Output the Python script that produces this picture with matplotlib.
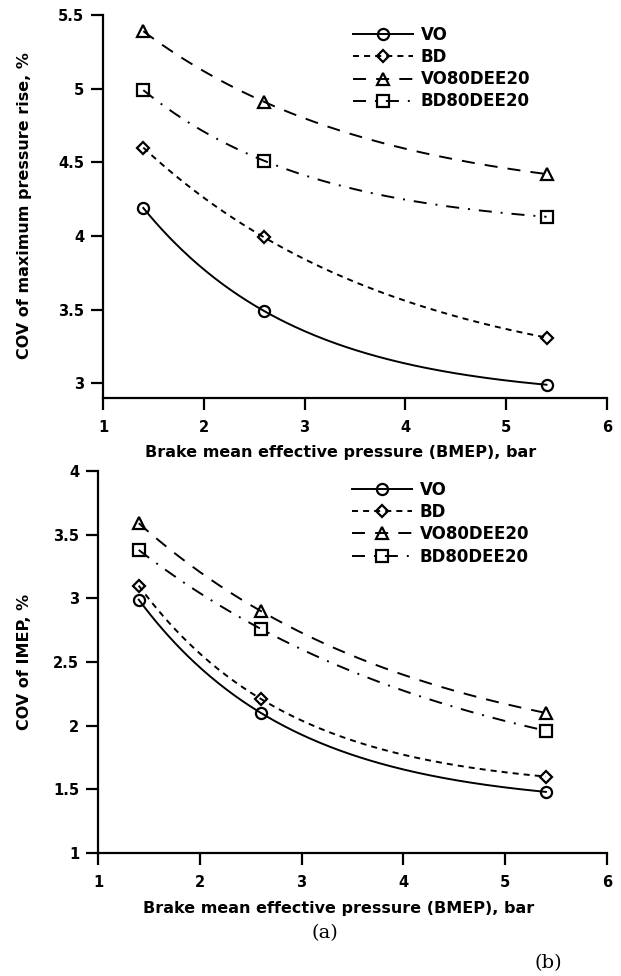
import numpy as np
import matplotlib
matplotlib.use("Agg")
import matplotlib.pyplot as plt
from matplotlib.lines import Line2D

# ---- data ----
bmep = [1.4, 2.6, 5.4]
series = ["VO", "BD", "VO80DEE20", "BD80DEE20"]
top_vo = [4.19, 3.49, 2.99]
top_bd = [4.60, 3.99, 3.31]
top_vo80 = [5.39, 4.91, 4.42]
top_bd80 = [4.99, 4.51, 4.13]
bot_vo = [2.99, 2.10, 1.48]
bot_bd = [3.10, 2.21, 1.60]
bot_vo80 = [3.59, 2.90, 2.10]
bot_bd80 = [3.38, 2.76, 1.96]
xticks = [1, 2, 3, 4, 5, 6]
top_yticks = [3, 3.5, 4, 4.5, 5, 5.5]
bot_yticks = [1, 1.5, 2, 2.5, 3, 3.5, 4]
xlabel = 'Brake mean effective pressure (BMEP), bar'
top_ylabel = 'COV of maximum pressure rise, %'
bot_ylabel = 'COV of IMEP, %'

plt.rcParams['font.family'] = ['DejaVu Sans']
plt.rcParams['font.weight'] = 'bold'

W, H = 621, 976
fig = plt.figure(figsize=(W / 100, H / 100), dpi=100)


def ax_rect(l, r, t, b):
    return [l / W, 1 - b / H, (r - l) / W, (b - t) / H]


def exp_fit(x, y):
    """Exponential decay y = a + b*exp(-k x) through three points."""
    x = np.asarray(x, float)
    y = np.asarray(y, float)
    r = (y[0] - y[1]) / (y[1] - y[2])

    def f(k):
        e = np.exp(-k * x)
        return (e[0] - e[1]) / (e[1] - e[2]) - r

    lo, hi = 1e-4, 20.0
    for _ in range(200):
        mid = 0.5 * (lo + hi)
        if f(lo) * f(mid) <= 0:
            hi = mid
        else:
            lo = mid
    k = 0.5 * (lo + hi)
    e = np.exp(-k * x)
    b = (y[0] - y[1]) / (e[0] - e[1])
    a = y[0] - b * e[0]
    return lambda t: a + b * np.exp(-k * t)


styles = [
    dict(ls='-', marker='o', ms=8),
    dict(ls=(0, (3.1, 2.6)), marker='D', ms=6.5),
    dict(ls=(0, (6.7, 5.2)), marker='^', ms=8),
    dict(ls=(0, (6.7, 4.6, 1, 4.6)), marker='s', ms=8),
]


def draw(ax, data, ylim, yticks):
    xs = np.linspace(bmep[0], bmep[-1], 200)
    for vals, st in zip(data, styles):
        fn = exp_fit(bmep, vals)
        ax.plot(xs, fn(xs), color='black', lw=1.4, ls=st['ls'])
        ax.plot(bmep, vals, ls='none', marker=st['marker'], ms=st['ms'],
                mfc='none', mec='black', mew=1.6)
    ax.set_xlim(1, 6)
    ax.set_ylim(*ylim)
    ax.set_xticks(xticks)
    ax.set_xticklabels([str(v) for v in xticks])
    ax.set_yticks(yticks)
    ax.set_yticklabels([('%g' % v) for v in yticks])
    for s in ['top', 'right']:
        ax.spines[s].set_visible(False)
    for s in ['left', 'bottom']:
        ax.spines[s].set_linewidth(1.6)
    ax.spines['left'].set_bounds(ylim[0], yticks[-1])
    ax.tick_params(direction='out', length=8.5, width=1.6, labelsize=10.5, pad=5)
    ax.tick_params(axis='x', pad=7)
    for lab in ax.get_xticklabels() + ax.get_yticklabels():
        lab.set_fontweight('bold')
    handles = [Line2D([], [], color='black', lw=1.4, ls=st['ls'],
                      marker=st['marker'], ms=st['ms'], mfc='none', mec='black', mew=1.6)
               for st in styles]
    return handles


ax1 = fig.add_axes(ax_rect(103, 607, 15, 398))
h1 = draw(ax1, [top_vo, top_bd, top_vo80, top_bd80], (2.9, 5.5), top_yticks)

ax2 = fig.add_axes(ax_rect(98, 607, 471, 853))
h2 = draw(ax2, [bot_vo, bot_bd, bot_vo80, bot_bd80], (1, 4), bot_yticks)

for ax, h, (lx, ly) in [(ax1, h1, (353, 26)), (ax2, h2, (352, 481))]:
    ax.legend(h, series, loc='upper left',
              bbox_to_anchor=(lx / W, 1 - ly / H),
              bbox_transform=fig.transFigure, frameon=False, numpoints=1,
              handlelength=3.6, handletextpad=0.45, labelspacing=0.25,
              borderpad=0, borderaxespad=0,
              prop=dict(family='DejaVu Sans', weight='bold', size=12))


def ftext(x, y, s, **kw):
    fig.text(x / W, 1 - y / H, s, ha='center', va='center', **kw)


ftext(341, 452, xlabel, fontsize=11.5, fontweight='bold')
ftext(339, 908, xlabel, fontsize=11.5, fontweight='bold')
ftext(25, 206, top_ylabel, fontsize=11.5, fontweight='bold', rotation=90)
ftext(25, 662, bot_ylabel, fontsize=11.5, fontweight='bold', rotation=90)

ftext(325, 933, '(a)', fontsize=14, family='DejaVu Serif', fontweight='normal')
ftext(548, 963, '(b)', fontsize=14, family='DejaVu Serif', fontweight='normal')

fig.savefig('out.png', dpi=100)
